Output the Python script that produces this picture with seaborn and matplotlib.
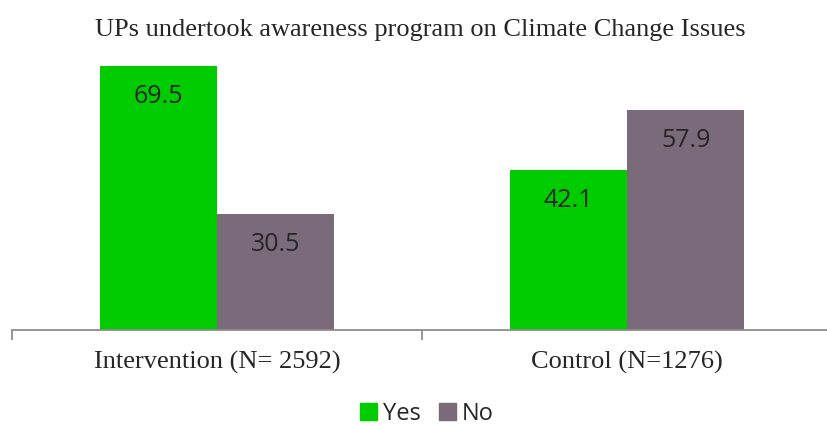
import matplotlib
matplotlib.use("Agg")
import matplotlib.pyplot as plt
import seaborn as sns
import pandas as pd

categories = ["Intervention (N= 2592)", "Control (N=1276)"]
responses = ["Yes", "No"]
yes_values = [69.5, 42.1]
no_values = [30.5, 57.9]
title = "UPs undertook awareness program on Climate Change Issues"

df = pd.DataFrame({
    "group": categories * 2,
    "response": ["Yes"] * 2 + ["No"] * 2,
    "value": yes_values + no_values,
})

palette = {"Yes": "#00cc00", "No": "#7a6a7a"}

sns.set_style("white")
fig = plt.figure(figsize=(8.27, 4.25), dpi=100)
ax = fig.add_axes([12 / 827, 1 - 330 / 425, 820 / 827, (330 - 26) / 425])

sns.barplot(data=df, x="group", y="value", hue="response", order=categories,
            hue_order=responses, palette=palette, width=0.572, gap=0,
            saturation=1, ax=ax, legend=False, edgecolor="none")

ax.set_ylim(0, 80)
ax.set_xlim(-0.5, 1.5)
ax.set_xlabel("")
ax.set_ylabel("")
ax.set_yticks([])
for s in ["top", "right", "left"]:
    ax.spines[s].set_visible(False)
ax.spines["bottom"].set_color("#8c8c8c")
ax.spines["bottom"].set_linewidth(1.3)

# category labels on major ticks, separator ticks between the groups
ax.set_xticks([0, 1])
ax.set_xticklabels(categories, fontfamily="Liberation Serif", fontsize=19)
ax.tick_params(axis="x", which="major", bottom=False, length=0, pad=15)
ax.set_xticks([-0.5, 0.5, 1.5], minor=True)
ax.tick_params(axis="x", which="minor", bottom=True, length=7, width=1.3,
               color="#8c8c8c", direction="out")

for bar in ax.patches:
    h = bar.get_height()
    if h > 0:
        ax.annotate(f"{h:.1f}", (bar.get_x() + bar.get_width() / 2, h),
                    xytext=(0, -22), textcoords="offset points",
                    ha="center", va="center", fontsize=18, fontfamily="Open Sans")

fig.text(420 / 827, 1 - 30 / 425, title, ha="center", va="center",
         fontfamily="Liberation Serif", fontsize=19)

handles = [plt.Rectangle((0, 0), 1, 1, color=palette[r]) for r in responses]
fig.legend(handles, responses, loc="center", bbox_to_anchor=(427 / 827, 1 - 414 / 425),
           ncol=2, frameon=False, prop={"family": "Open Sans", "size": 17},
           handlelength=0.7, handleheight=0.7, handletextpad=0.25, columnspacing=0.8,
           borderpad=0)

fig.savefig("out.png", dpi=100)
